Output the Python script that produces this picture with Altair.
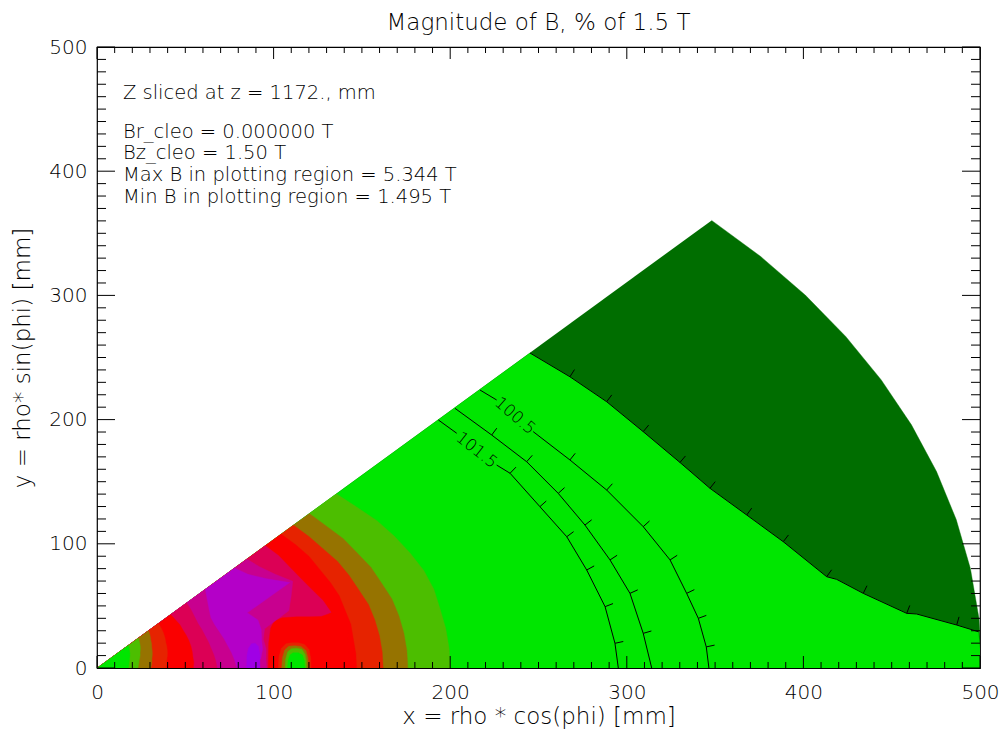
import math
import altair as alt
import numpy as np
import pandas as pd

FONT = "DejaVu Sans"
WEIGHT = 200

# angular grid of the polar data (degrees) read from the vertices of the outer arc
PHI_DEG = [0.0, 4.6, 9.2, 13.8, 18.4, 23.0, 27.6, 32.2, 36.8, 41.4, 46.0]

# outer boundaries of each fill band (rho in mm at each PHI_DEG)
R_WEDGE = [501, 501, 501, 501, 501, 501, 501, 501, 501, 501, 501]
R_OLIVE = [200, 200, 200, 200, 201, 201, 200, 199, 198, 196, 195]
R_BROWN = [176, 176, 176, 176, 176, 175, 175, 174, 174, 173, 173]
R_ORANGE = [162, 162, 162, 162, 162, 161, 161, 161, 160, 160, 160]
R_RED = [147, 147, 147, 148, 148, 149, 149, 149, 150, 150, 150]
R_CRIMSON = [140, 140, 140, 140, 140, 139, 137, 136, 136, 137, 137]
R_MAGENTA = [96, 96, 97, 97, 100, 118, 124, 131, 126, 123, 122]
R_PURPLE = [86, 93, 95, 96, 98, 99, 96, 129, 120, 114, 112]

# inner boundaries of each band (rho in mm at each PHI_DEG)
A_PURPLE = [79, 78, 77, 76, 75.5, 75, 75, 76, 79, 83, 88]
A_MAGENTA = [68, 67.5, 67, 66.5, 66.5, 66.5, 67, 67.5, 69, 71, 73]
A_CRIMSON = [54.5, 55, 55, 55.5, 56, 56.5, 57, 57.5, 58.5, 59, 60]
A_RED = [39, 39.5, 40, 41, 42, 43, 44, 45.5, 47, 48.5, 50]
A_ORANGE = [30.5, 31, 31.5, 32, 33, 34, 35, 36.5, 38, 40, 42]
A_BROWN = [23.2, 23.5, 24, 24.5, 25.5, 26.5, 27.5, 29, 30.5, 32, 33.7]
A_OLIVE = [17.7, 18, 18.3, 18.7, 19.3, 20, 21, 22, 23, 24.3, 25.5]

# 100 % contour (edge of the dark green region)
C100_X = [245.2, 267.8, 288.6, 309.3, 330.1, 347.1, 367.9, 388.6, 413.2, 418.8, 433.9, 458.5, 464.1, 486.8, 499.1]
C100_Y = [253.6, 234.5, 214.4, 190.3, 165.5, 144.7, 123.2, 101.7, 73.5, 71.4, 60.1, 44.0, 43.5, 34.6, 29.2]
C100_TICKS = [1, 2, 3, 4, 5, 6, 7, 8, 10, 11, 13]

# 100.5 contour (split around its label)
C1005_A_X = [216.9, 226.3]
C1005_A_Y = [223.8, 215.8]
C1005_B_X = [247.0, 267.8, 288.6, 309.3, 324.5, 333.9, 340.5, 345.0, 346.5]
C1005_B_Y = [190.3, 167.5, 143.3, 113.8, 87.0, 60.1, 40.0, 17.0, 0.0]
C1005_TICKS = [1, 2, 3, 4, 5, 6, 7]

# 101 contour
C101_X = [202.7, 223.5, 243.3, 261.2, 276.3, 290.5, 301.8, 309.3, 314.1]
C101_Y = [209.1, 187.6, 166.1, 140.6, 115.1, 87.0, 60.1, 27.9, 0.0]
C101_TICKS = [1, 2, 3, 4, 5, 6, 7]

# 101.5 contour (split around its label)
C1015_A_X = [193.3, 203.7]
C1015_A_Y = [199.7, 189.0]
C1015_B_X = [226.3, 233.9, 250.8, 266.0, 277.3, 287.7, 293.3, 295.2]
C1015_B_Y = [163.4, 156.8, 129.9, 105.7, 78.9, 49.4, 19.9, 0.0]
C1015_TICKS = [1, 2, 3, 4, 5, 6]

# local features near x ~ 110 mm
BLOB_X = [97.0, 97.2, 98.3, 100.5, 105.0, 113.0, 121.0, 127.0, 131.0, 135.0, 138.5, 142.0, 143.0]
BLOB_Y = [0.0, 20.0, 32.0, 38.0, 40.5, 41.2, 41.2, 41.5, 43.5, 46.0, 46.5, 30.0, 0.0]
VIOLET_X = [84.8, 84.9, 85.8, 87.5, 89.5, 91.3, 92.2, 92.3]
VIOLET_Y = [0.0, 10.0, 16.0, 19.5, 20.0, 17.5, 11.0, 0.0]
RING_O_X = [102.7, 103.0, 104.5, 107.0, 110.0, 114.0, 117.5, 120.0, 121.0, 121.2]
RING_O_Y = [0.0, 9.0, 16.0, 19.5, 20.3, 20.3, 19.0, 15.0, 8.0, 0.0]
RING_B_X = [104.6, 105.0, 106.3, 108.5, 112.0, 115.5, 118.3, 119.5, 119.7]
RING_B_Y = [0.0, 8.0, 14.5, 17.5, 18.0, 17.3, 14.0, 8.0, 0.0]
RING_L_X = [106.5, 106.8, 108.0, 110.0, 113.0, 116.0, 117.8, 118.5, 118.6]
RING_L_Y = [0.0, 7.0, 13.0, 15.6, 16.0, 15.0, 11.0, 6.0, 0.0]
DOT_X = [107.9, 108.2, 109.3, 111.0, 114.0, 116.3, 117.4, 117.7]
DOT_Y = [0.0, 6.0, 10.5, 12.3, 12.3, 10.5, 6.0, 0.0]

COL = {
    "dkgreen": "#006e00", "green": "#00e600", "olive": "#4cbe00", "brown": "#967300",
    "orange": "#e62300", "red": "#fa0000", "crimson": "#dc0055", "magenta": "#c8008f",
    "purple": "#b400c8", "violet": "#a000e6",
}

INFO = ["Z sliced at z = 1172., mm", "Br_cleo = 0.000000 T", "Bz_cleo = 1.50 T",
        "Max B in plotting region = 5.344 T", "Min B in plotting region = 1.495 T"]
INFO_X = [14.7, 14.7, 14.7, 14.7, 14.7]
INFO_Y = [462.7, 431.8, 414.7, 396.9, 379.5]

LABELS = ["100.5", "101.5"]
LABEL_X = [236.7, 215.0]
LABEL_Y = [202.9, 175.3]
LABEL_ANGLE = [40.8, 38.5]

AXIS_VALUES = [0, 100, 200, 300, 400, 500]
MINOR_VALUES = [v for v in range(0, 501, 10) if v % 100 != 0]

W, H = 883, 621
SX, SY = W / 500.0, H / 500.0

xscale = alt.Scale(domain=[0, 500], nice=False, zero=False)
yscale = alt.Scale(domain=[0, 500], nice=False, zero=False)
xaxis = alt.Axis(values=AXIS_VALUES, ticks=False, domain=False, grid=False, labelFont=FONT,
                 labelFontSize=20, labelFontWeight=WEIGHT, labelColor="black", labelPadding=14,
                 labelFlush=False, title="x = rho * cos(phi) [mm]", titleFont=FONT, titleFontSize=23,
                 titleFontWeight=WEIGHT, titleColor="black", titlePadding=3)
yaxis = alt.Axis(values=AXIS_VALUES, ticks=False, domain=False, grid=False, labelFont=FONT,
                 labelFontSize=20, labelFontWeight=WEIGHT, labelColor="black", labelPadding=10,
                 labelFlush=False, title="y = rho* sin(phi) [mm]", titleFont=FONT, titleFontSize=23,
                 titleFontWeight=WEIGHT, titleColor="black", titlePadding=14)


def ex(f):
    return alt.X(f"{f}:Q", scale=xscale, axis=xaxis)


def ey(f):
    return alt.Y(f"{f}:Q", scale=yscale, axis=yaxis)


def sector_points(radii):
    pts = [(0.0, 0.0)]
    for p, r in zip(PHI_DEG, radii):
        t = math.radians(p)
        pts.append((r * math.cos(t), r * math.sin(t)))
    return pts


def poly(points, color):
    df = pd.DataFrame({"x": [p[0] for p in points], "y": [p[1] for p in points],
                       "i": list(range(len(points)))})
    return alt.Chart(df).mark_line(fill=color, stroke=color, strokeWidth=0.4, clip=True).encode(
        x=ex("x"), y=ey("y"), order="i:Q")


layers = []
layers.append(poly(sector_points(R_WEDGE), COL["dkgreen"]))
layers.append(poly([(0.0, 0.0)] + list(zip(C100_X, C100_Y)) + [(501.0, 0.0)], COL["green"]))
layers.append(poly(sector_points(R_OLIVE), COL["olive"]))
layers.append(poly(sector_points(R_BROWN), COL["brown"]))
layers.append(poly(sector_points(R_ORANGE), COL["orange"]))
layers.append(poly(sector_points(R_RED), COL["red"]))
layers.append(poly(sector_points(R_CRIMSON), COL["crimson"]))
layers.append(poly(list(zip(BLOB_X, BLOB_Y)), COL["red"]))
layers.append(poly(sector_points(R_MAGENTA), COL["magenta"]))
layers.append(poly(sector_points(R_PURPLE), COL["purple"]))
layers.append(poly(sector_points(A_PURPLE), COL["magenta"]))
layers.append(poly(sector_points(A_MAGENTA), COL["crimson"]))
layers.append(poly(sector_points(A_CRIMSON), COL["red"]))
layers.append(poly(sector_points(A_RED), COL["orange"]))
layers.append(poly(sector_points(A_ORANGE), COL["brown"]))
layers.append(poly(sector_points(A_BROWN), COL["olive"]))
layers.append(poly(sector_points(A_OLIVE), COL["green"]))
layers.append(poly(list(zip(VIOLET_X, VIOLET_Y)), COL["violet"]))
layers.append(poly(list(zip(RING_O_X, RING_O_Y)), COL["orange"]))
layers.append(poly(list(zip(RING_B_X, RING_B_Y)), COL["brown"]))
layers.append(poly(list(zip(RING_L_X, RING_L_Y)), COL["olive"]))
layers.append(poly(list(zip(DOT_X, DOT_Y)), COL["green"]))

# contour lines
segs = [(C100_X, C100_Y), (C1005_A_X, C1005_A_Y), (C1005_B_X, C1005_B_Y), (C101_X, C101_Y),
        (C1015_A_X, C1015_A_Y), (C1015_B_X, C1015_B_Y)]
rows = []
for s, (xs, ys) in enumerate(segs):
    for i, (a, b) in enumerate(zip(xs, ys)):
        rows.append({"x": a, "y": b, "i": i, "seg": s})
line_df = pd.DataFrame(rows)
layers.append(alt.Chart(line_df).mark_line(color="black", strokeWidth=1, clip=True).encode(
    x=ex("x"), y=ey("y"), detail="seg:N", order="i:Q"))


# downhill tick marks on contours (perpendicular, pointing outward)
def contour_ticks(xs, ys, idxs, length=8.5):
    out = []
    for k in idxs:
        x0, y0 = xs[k] * SX, ys[k] * SY
        tx = (xs[k + 1] - xs[k - 1]) * SX
        ty = (ys[k + 1] - ys[k - 1]) * SY
        nx, ny = ty, -tx
        if nx * x0 + ny * y0 < 0:
            nx, ny = -nx, -ny
        n = math.hypot(nx, ny)
        nx, ny = nx / n * length, ny / n * length
        out.append({"x": xs[k], "y": ys[k], "x2": (x0 + nx) / SX, "y2": (y0 + ny) / SY})
    return out


tick_rows = (contour_ticks(C100_X, C100_Y, C100_TICKS) + contour_ticks(C1005_B_X, C1005_B_Y, C1005_TICKS)
             + contour_ticks(C101_X, C101_Y, C101_TICKS) + contour_ticks(C1015_B_X, C1015_B_Y, C1015_TICKS))
layers.append(alt.Chart(pd.DataFrame(tick_rows)).mark_rule(color="black", strokeWidth=1).encode(
    x=ex("x"), y=ey("y"), x2="x2:Q", y2="y2:Q"))

# contour labels
for t, lx, ly, ang in zip(LABELS, LABEL_X, LABEL_Y, LABEL_ANGLE):
    layers.append(alt.Chart(pd.DataFrame({"x": [lx], "y": [ly], "t": [t]})).mark_text(
        font=FONT, fontSize=16.5, fontWeight=WEIGHT, color="black", angle=ang, align="center",
        baseline="middle").encode(x=ex("x"), y=ey("y"), text="t:N"))

# info text
info_df = pd.DataFrame({"x": INFO_X, "y": INFO_Y, "t": INFO})
layers.append(alt.Chart(info_df).mark_text(font=FONT, fontSize=19.5, fontWeight=WEIGHT, color="black",
                                           align="left", baseline="middle").encode(
    x=ex("x"), y=ey("y"), text="t:N"))

# inward axis ticks on all four sides
maj = pd.DataFrame({"v": AXIS_VALUES})
mnr = pd.DataFrame({"v": MINOR_VALUES})
for df, lx, ly in [(maj, 12, 18), (mnr, 6, 9)]:
    layers.append(alt.Chart(df).mark_rule(color="black", strokeWidth=1).encode(
        x=ex("v"), y=alt.value(H), y2=alt.value(H - lx)))
    layers.append(alt.Chart(df).mark_rule(color="black", strokeWidth=1).encode(
        x=ex("v"), y=alt.value(0), y2=alt.value(lx)))
    layers.append(alt.Chart(df).mark_rule(color="black", strokeWidth=1).encode(
        y=ey("v"), x=alt.value(0), x2=alt.value(ly)))
    layers.append(alt.Chart(df).mark_rule(color="black", strokeWidth=1).encode(
        y=ey("v"), x=alt.value(W), x2=alt.value(W - ly)))

chart = alt.layer(*layers).properties(
    width=W, height=H,
    title=alt.Title("Magnitude of B, % of 1.5 T", font=FONT, fontSize=23, fontWeight=WEIGHT,
                    color="black", offset=2, anchor="middle"),
    autosize=alt.AutoSizeParams(type="none"),
    padding={"left": 89, "top": 39, "right": 20, "bottom": 62},
).configure_view(stroke="black", strokeWidth=1.2)

chart.save("out.html", embed_options={"renderer": "svg", "actions": False})
